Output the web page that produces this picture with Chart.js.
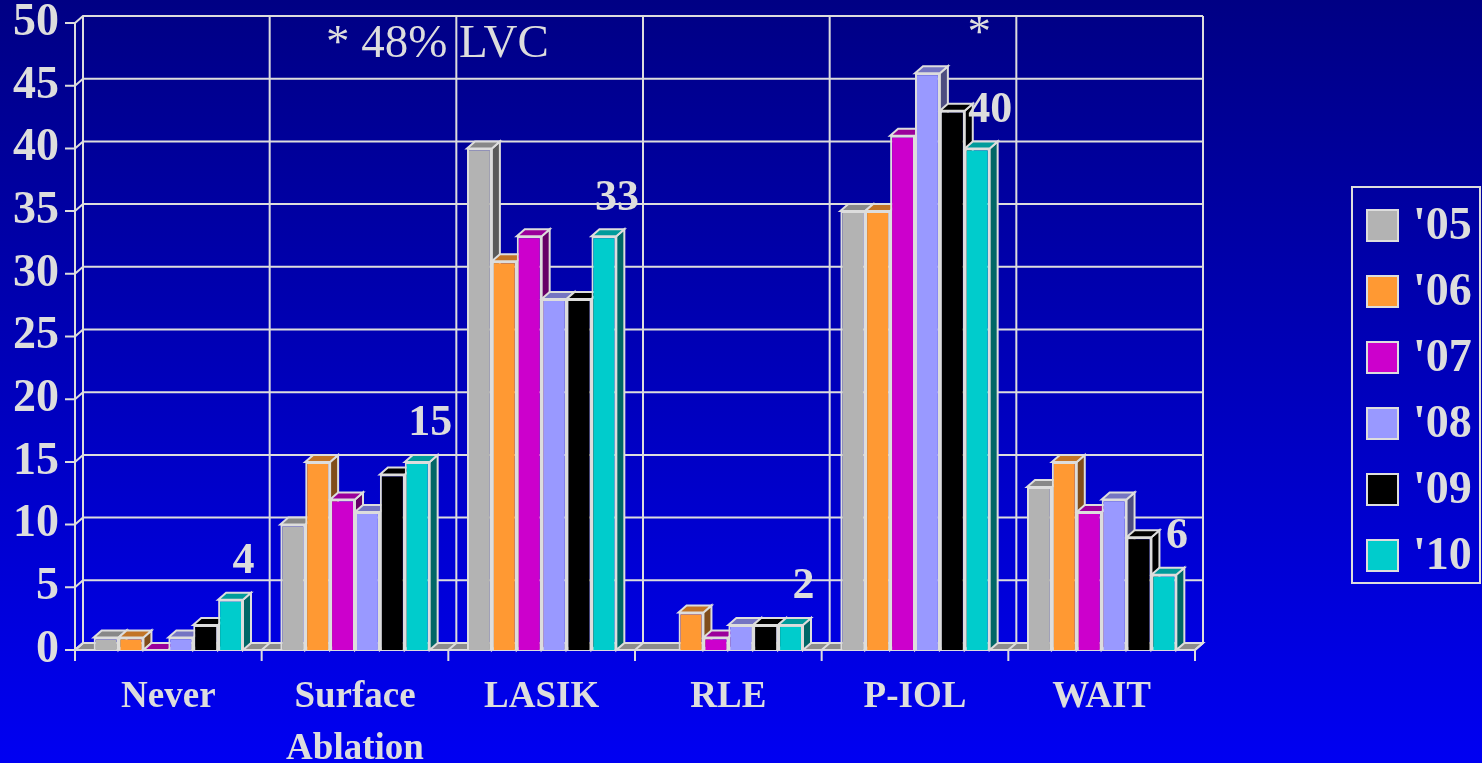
<!DOCTYPE html>
<html>
<head>
<meta charset="utf-8">
<script src="https://cdn.jsdelivr.net/npm/chart.js"></script>
<style>
  html, body { margin: 0; padding: 0; background: #0000b8; }
  #wrap { width: 1482px; height: 763px; }
</style>
</head>
<body>
<div id="wrap"><canvas id="chart" width="1482" height="763"></canvas></div>
<script>
// categories and yearly values (percent)
const categories = ['Never', ['Surface', 'Ablation'], 'LASIK', 'RLE', 'P-IOL', 'WAIT'];
const years = ["'05", "'06", "'07", "'08", "'09", "'10"];
const y05 = [1, 10, 40, null, 35, 13];
const y06 = [1, 15, 31, 3, 35, 15];
const y07 = [0, 12, 33, 1, 41, 11];
const y08 = [1, 11, 28, 2, 46, 12];
const y09 = [2, 14, 28, 2, 43, 9];
const y10 = [4, 15, 33, 2, 40, 6];
const yearColors = ['#b3b3b3', '#ff9933', '#cc00cc', '#9999ff', '#000000', '#00cccc'];
const noteLVC = '* 48% LVC';
const noteStar = '*';

const ink = '#dddddd';
const serif = "'Liberation Serif', 'Times New Roman', serif";
const dx = 8, dy = 7;

function shade(hex, f) {
    const n = parseInt(hex.slice(1), 16);
    const r = Math.round(((n >> 16) & 255) * f);
    const g = Math.round(((n >> 8) & 255) * f);
    const b = Math.round((n & 255) * f);
    return `rgb(${r},${g},${b})`;
}

function poly(ctx, pts, fill) {
    ctx.beginPath();
    ctx.moveTo(pts[0][0], pts[0][1]);
    for (let i = 1; i < pts.length; i++) ctx.lineTo(pts[i][0], pts[i][1]);
    ctx.closePath();
    if (fill) { ctx.fillStyle = fill; ctx.fill(); }
    ctx.stroke();
}

const cubePlugin = {
    id: 'cube',
    beforeDraw(chart) {
        const ctx = chart.ctx;
        const g = ctx.createLinearGradient(0, 0, 0, chart.height);
        g.addColorStop(0, '#000084');
        g.addColorStop(1, '#0000f2');
        ctx.save();
        ctx.fillStyle = g;
        ctx.fillRect(0, 0, chart.width, chart.height);
        ctx.restore();
    },
    beforeDatasetsDraw(chart) {
        const ctx = chart.ctx;
        const a = chart.chartArea;
        const ys = chart.scales.y;
        const catW = (a.right - a.left) / categories.length;
        ctx.save();
        ctx.strokeStyle = ink;
        ctx.lineWidth = 2;

        // floor
        poly(ctx, [[a.left, a.bottom], [a.right, a.bottom], [a.right + dx, a.bottom - dy], [a.left + dx, a.bottom - dy]], '#8c8c8c');

        // back wall grid + left wall ticks
        ys.ticks.forEach(t => {
            const y = ys.getPixelForValue(t.value);
            ctx.beginPath();
            ctx.moveTo(a.left - 10, y);
            ctx.lineTo(a.left, y);
            ctx.lineTo(a.left + dx, y - dy);
            ctx.lineTo(a.right + dx, y - dy);
            ctx.stroke();
        });
        ctx.beginPath();
        ctx.moveTo(a.left, a.top);
        ctx.lineTo(a.left, a.bottom);
        ctx.lineTo(a.right, a.bottom);
        ctx.stroke();
        for (let k = 0; k <= categories.length; k++) {
            const x = a.left + k * catW;
            ctx.beginPath();
            ctx.moveTo(x + dx, a.top - dy);
            ctx.lineTo(x + dx, a.bottom - dy);
            ctx.lineTo(x, a.bottom);
            ctx.lineTo(x, a.bottom + 11);
            ctx.stroke();
        }

        // sides and tops of the bars
        chart.data.datasets.forEach((ds, d) => {
            const meta = chart.getDatasetMeta(d);
            meta.data.forEach((el, i) => {
                if (ds.data[i] === null) return;
                const l = el.x - el.width / 2, r = el.x + el.width / 2;
                const top = el.y, base = el.base;
                poly(ctx, [[r, top], [r + dx, top - dy], [r + dx, base - dy], [r, base]], shade(yearColors[d], 0.5));
                poly(ctx, [[l, top], [r, top], [r + dx, top - dy], [l + dx, top - dy]], shade(yearColors[d], 0.76));
            });
        });
        ctx.restore();
    },
    afterDraw(chart) {
        const ctx = chart.ctx;
        const xs = chart.scales.x, ys = chart.scales.y;
        ctx.save();
        ctx.fillStyle = ink;
        ctx.textAlign = 'center';

        // latest-year value above each group
        ctx.font = `bold 44px ${serif}`;
        ctx.textBaseline = 'middle';
        const last = chart.data.datasets.length - 1;
        chart.getDatasetMeta(last).data.forEach((el, i) => {
            ctx.fillText(String(y10[i]), el.x + 13, el.y - 38);
        });

        // notes
        ctx.font = `47px ${serif}`;
        ctx.textBaseline = 'alphabetic';
        ctx.fillText(noteLVC, xs.getPixelForValue(1.5) - 11, ys.getPixelForValue(47.3));
        ctx.fillText(noteStar, xs.getPixelForValue(4.5) - 29, ys.getPixelForValue(48.1));

        // legend
        const lx = 1352, ly = 187, lw = 128, lh = 396;
        ctx.strokeStyle = ink;
        ctx.lineWidth = 2;
        ctx.strokeRect(lx, ly, lw, lh);
        ctx.font = `bold 46px ${serif}`;
        ctx.textAlign = 'left';
        ctx.textBaseline = 'middle';
        chart.data.datasets.forEach((ds, d) => {
            const cy = ly + 38 + d * 66;
            ctx.fillStyle = yearColors[d];
            ctx.fillRect(lx + 15, cy - 15, 31, 31);
            ctx.strokeRect(lx + 15, cy - 15, 31, 31);
            ctx.fillStyle = ink;
            ctx.fillText(ds.label, lx + 61, cy + 2);
        });
        ctx.restore();
    }
};

const series = [y05, y06, y07, y08, y09, y10];

new Chart(document.getElementById('chart').getContext('2d'), {
    type: 'bar',
    data: {
        labels: categories,
        datasets: series.map((vals, d) => ({
            label: years[d],
            data: vals,
            backgroundColor: yearColors[d],
            borderColor: ink,
            borderWidth: 2,
            barPercentage: 1,
            categoryPercentage: 0.8
        }))
    },
    options: {
        responsive: false,
        devicePixelRatio: 1,
        animation: false,
        layout: { padding: { left: 0, top: 23, right: 287, bottom: 0 } },
        plugins: {
            legend: { display: false },
            tooltip: { enabled: false }
        },
        scales: {
            x: {
                grid: { display: false, drawTicks: false },
                border: { display: false },
                ticks: {
                    color: ink,
                    font: { family: serif, weight: 'bold', size: 37, lineHeight: 1.4 },
                    padding: 22,
                    maxRotation: 0,
                    autoSkip: false
                },
                afterFit(scale) {
                    scale.height = 113;
                    scale.paddingLeft = 0;
                    scale.paddingRight = 0;
                }
            },
            y: {
                min: 0,
                max: 50,
                grid: { display: false, drawTicks: false },
                border: { display: false },
                ticks: {
                    stepSize: 5,
                    autoSkip: false,
                    color: ink,
                    font: { family: serif, weight: 'bold', size: 46 },
                    padding: 16
                },
                afterFit(scale) {
                    scale.width = 75;
                    scale.paddingTop = 0;
                    scale.paddingBottom = 0;
                }
            }
        }
    },
    plugins: [cubePlugin]
});
</script>
</body>
</html>
